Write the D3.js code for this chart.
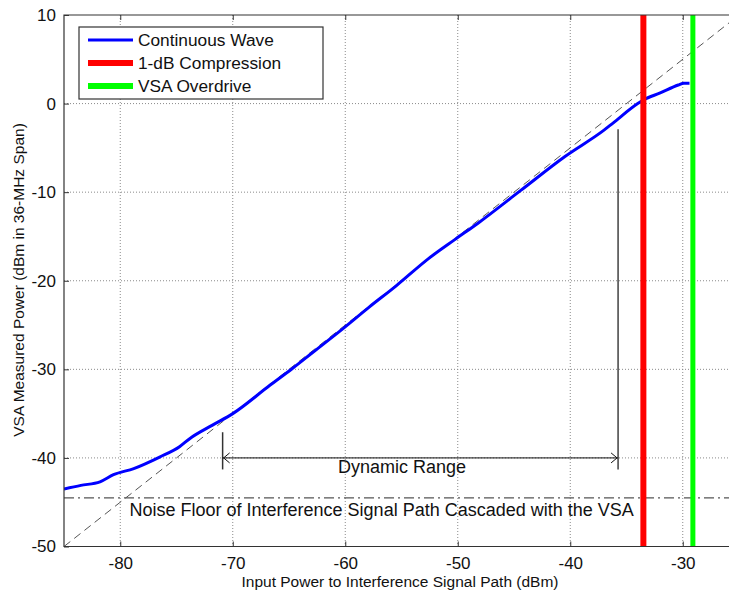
<!DOCTYPE html>
<html>
<head>
<meta charset="utf-8">
<script src="https://cdn.jsdelivr.net/npm/d3@7"></script>
<style>
  html, body { margin: 0; padding: 0; background: #fff; overflow: hidden; }
  svg { display: block; font-family: Arial, "Liberation Sans", sans-serif; }
</style>
</head>
<body>
<svg id="chart" width="729" height="592"></svg>
<script>
// Measured output power of the interference signal path versus input power
const inputPower = [-85, -83.5, -81.8, -80.6, -78.8, -76.5, -74.7, -73.8, -71.8, -70, -66.7, -64.7,
  -62.9, -60.2, -57.9, -55.5, -52.6, -50.2, -48.2, -44.4, -40.5, -37.0, -36.2, -34.0, -33.5, -32.0,
  -30.4, -29.9, -29.4];
const measuredPower = [-43.5, -43.1, -42.7, -41.9, -41.2, -39.9, -38.7, -37.8, -36.3, -35.0, -31.8, -29.9,
  -28.1, -25.4, -23.0, -20.6, -17.5, -15.3, -13.5, -9.8, -6.0, -3.0, -2.2, 0.0, 0.4, 1.2,
  2.1, 2.3, 2.3];

// Ideal linear response (slope 1), noise floor, and marker positions
const idealX = [-85, -25];
const idealY = [-50, 10];
const noiseFloor = -44.5;
const compressionPoint = -33.5;
const overdrivePoint = -29.1;
const dynamicRange = [-70.9, -35.75];
const dynamicRangeLevel = -40;

const xTicks = [-80, -70, -60, -50, -40, -30];
const yTicks = [10, 0, -10, -20, -30, -40, -50];
const xDomain = [-85, -25];
const yDomain = [-50, 10];

const legendLabels = ["Continuous Wave", "1-dB Compression", "VSA Overdrive"];
const legendColors = ["#0000ff", "#ff0000", "#00ff00"];

const svg = d3.select("#chart");
const pLeft = 64, pRight = 739, pTop = 15, pBottom = 546.5;

const x = d3.scaleLinear().domain(xDomain).range([pLeft, pRight]);
const y = d3.scaleLinear().domain(yDomain).range([pBottom, pTop]);

svg.append("defs").append("clipPath").attr("id", "plotClip")
  .append("rect").attr("x", pLeft).attr("y", pTop).attr("width", pRight - pLeft).attr("height", pBottom - pTop);

// Dotted grid
const grid = svg.append("g").attr("stroke", "#8a8a8a").attr("stroke-width", 1).attr("stroke-dasharray", "1,2");
grid.selectAll(".gx").data(xTicks).join("line")
  .attr("x1", d => x(d)).attr("x2", d => x(d)).attr("y1", pTop).attr("y2", pBottom);
grid.selectAll(".gy").data(yTicks.filter(d => d > yDomain[0] && d < yDomain[1])).join("line")
  .attr("x1", pLeft).attr("x2", pRight).attr("y1", d => y(d)).attr("y2", d => y(d));

const plot = svg.append("g").attr("clip-path", "url(#plotClip)");

// Ideal slope-1 reference
plot.append("line")
  .attr("x1", x(idealX[0])).attr("y1", y(idealY[0]))
  .attr("x2", x(idealX[1])).attr("y2", y(idealY[1]))
  .attr("stroke", "#555").attr("stroke-width", 1).attr("stroke-dasharray", "8,5");

// Noise floor
plot.append("line")
  .attr("x1", pLeft).attr("x2", pRight).attr("y1", y(noiseFloor)).attr("y2", y(noiseFloor))
  .attr("stroke", "#555").attr("stroke-width", 1.2).attr("stroke-dasharray", "10,4,2,4");

// Dynamic range annotation
const ann = svg.append("g").attr("stroke", "#111").attr("fill", "none");
ann.append("line")
  .attr("x1", x(dynamicRange[0])).attr("x2", x(dynamicRange[0]))
  .attr("y1", y(-37.1)).attr("y2", y(-41.3)).attr("stroke-width", 1.5).attr("stroke", "#333");
ann.append("line")
  .attr("x1", x(dynamicRange[1])).attr("x2", x(dynamicRange[1]))
  .attr("y1", y(-2.9)).attr("y2", y(-41.3)).attr("stroke-width", 1.2);
ann.append("line")
  .attr("x1", x(dynamicRange[0])).attr("x2", x(dynamicRange[1]))
  .attr("y1", y(dynamicRangeLevel)).attr("y2", y(dynamicRangeLevel)).attr("stroke-width", 1);
const ay = y(dynamicRangeLevel);
ann.append("path")
  .attr("d", `M${x(dynamicRange[0]) + 7},${ay - 5} L${x(dynamicRange[0]) + 1},${ay} L${x(dynamicRange[0]) + 7},${ay + 5}`)
  .attr("stroke-width", 1);
ann.append("path")
  .attr("d", `M${x(dynamicRange[1]) - 7},${ay - 5} L${x(dynamicRange[1]) - 1},${ay} L${x(dynamicRange[1]) - 7},${ay + 5}`)
  .attr("stroke-width", 1);

// Measured curve
const curve = inputPower.map((v, i) => [v, measuredPower[i]]);
plot.append("path")
  .datum(curve)
  .attr("fill", "none").attr("stroke", legendColors[0]).attr("stroke-width", 3)
  .attr("stroke-linejoin", "round")
  .attr("d", d3.line().x(d => x(d[0])).y(d => y(d[1])).curve(d3.curveMonotoneX));

// Compression and overdrive markers
plot.append("line")
  .attr("x1", x(compressionPoint)).attr("x2", x(compressionPoint)).attr("y1", pTop).attr("y2", pBottom)
  .attr("stroke", legendColors[1]).attr("stroke-width", 6);
plot.append("line")
  .attr("x1", x(overdrivePoint)).attr("x2", x(overdrivePoint)).attr("y1", pTop).attr("y2", pBottom)
  .attr("stroke", legendColors[2]).attr("stroke-width", 5);

// Annotation text
svg.append("text").attr("x", 402).attr("y", 473).attr("text-anchor", "middle")
  .attr("font-size", 18).attr("fill", "#111").text("Dynamic Range");
svg.append("text").attr("x", 129.5).attr("y", 516)
  .attr("font-size", 18).attr("fill", "#111").text("Noise Floor of Interference Signal Path Cascaded with the VSA");

// Frame
svg.append("path")
  .attr("d", `M${pRight},${pTop} H${pLeft} V${pBottom} H${pRight}`)
  .attr("fill", "none").attr("stroke", "#333").attr("stroke-width", 1.2);

// Axes with inward ticks
const tickFmt = d => String(d);
const xAxisB = d3.axisBottom(x).tickValues(xTicks).tickSize(-5).tickPadding(10).tickFormat(tickFmt);
const xAxisT = d3.axisTop(x).tickValues(xTicks).tickSize(-5).tickFormat("");
const yAxisL = d3.axisLeft(y).tickValues(yTicks).tickSize(-5).tickPadding(8).tickFormat(tickFmt);

function styleAxis(g) {
  g.select(".domain").remove();
  g.selectAll(".tick line").attr("stroke", "#333");
  g.selectAll(".tick text").attr("fill", "#111").attr("font-size", 17)
    .attr("font-family", "Arial, 'Liberation Sans', sans-serif");
}
svg.append("g").attr("transform", `translate(0,${pBottom})`).call(xAxisB).call(styleAxis);
svg.append("g").attr("transform", `translate(0,${pTop})`).call(xAxisT).call(styleAxis);
svg.append("g").attr("transform", `translate(${pLeft},0)`).call(yAxisL).call(styleAxis);

// Axis titles
svg.append("text").attr("x", 400).attr("y", 586.5).attr("text-anchor", "middle")
  .attr("font-size", 15.5).attr("fill", "#111").text("Input Power to Interference Signal Path (dBm)");
svg.append("text").attr("transform", `translate(24,280) rotate(-90)`).attr("text-anchor", "middle")
  .attr("font-size", 15.5).attr("fill", "#111").text("VSA Measured Power (dBm in 36-MHz Span)");

// Legend
const lg = svg.append("g");
lg.append("rect").attr("x", 79).attr("y", 27).attr("width", 244).attr("height", 72)
  .attr("fill", "#fff").attr("stroke", "#333").attr("stroke-width", 1.2);
const rowY = [40, 63, 86];
legendLabels.forEach((lab, i) => {
  lg.append("line").attr("x1", 88).attr("x2", 133).attr("y1", rowY[i]).attr("y2", rowY[i])
    .attr("stroke", legendColors[i]).attr("stroke-width", i === 0 ? 3 : 6);
  lg.append("text").attr("x", 138).attr("y", rowY[i]).attr("dy", "0.36em")
    .attr("font-size", 17.3).attr("fill", "#111").text(lab);
});
</script>
</body>
</html>
